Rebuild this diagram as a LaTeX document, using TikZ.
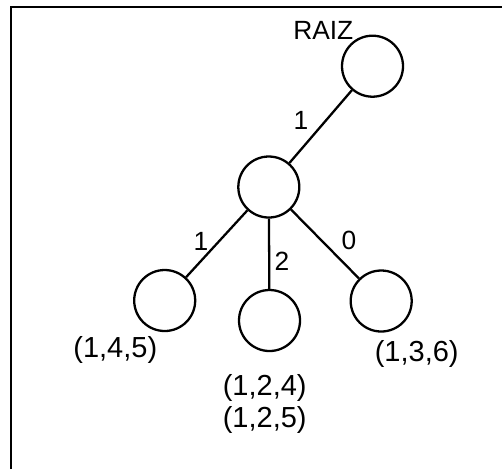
\documentclass[tikz,border=0pt]{standalone}
\usepackage{fontspec}
\setmainfont{Liberation Sans}

\tikzset{
  state/.style={draw, circle, line width=1.3pt, minimum size=1.22cm},
  edgelbl/.style={font=\fontsize{15}{17}\selectfont},
  leaflbl/.style={font=\fontsize{16.5}{18.2}\selectfont, align=center},
  link/.style={line width=1.3pt}
}

\begin{document}
\begin{tikzpicture}[scale=0.2]
\tikzstyle{every node}+=[inner sep=0pt]
\useasboundingbox (0,0) rectangle (50.2,-46.9);
\draw [line width=1.6pt] (1.1,-46.9) -- (1.1,-0.7) -- (50.2,-0.7);
% nodes of the tree
\node [state] (raiz) at (37.25,-6.62) {};
\node [state] (n1) at (26.88,-18.70) {};
\node [state] (n11) at (16.47,-30.05) {};
\node [state] (n12) at (26.95,-32.05) {};
\node [state] (n10) at (38.12,-30.10) {};
\draw [link] (raiz) -- (n1);
\draw [link] (n1) -- (n11);
\draw [link] (n1) -- (n12);
\draw [link] (n1) -- (n10);
% labels
\node [edgelbl] (lraiz) at (32.33,-3.08) {RAIZ};
\node [edgelbl] (e1) at (30.1,-12.0) {1};
\node [edgelbl] (e11) at (20.1,-24.17) {1};
\node [edgelbl] (e12) at (28.2,-26.13) {2};
\node [edgelbl] (e10) at (34.9,-24.0) {0};
\node [leaflbl] (t11) at (11.53,-34.95) {(1,4,5)};
\node [leaflbl] (t12) at (26.47,-40.4) {(1,2,4)\\(1,2,5)};
\node [leaflbl] (t10) at (41.67,-35.4) {(1,3,6)};
\end{tikzpicture}
\end{document}
